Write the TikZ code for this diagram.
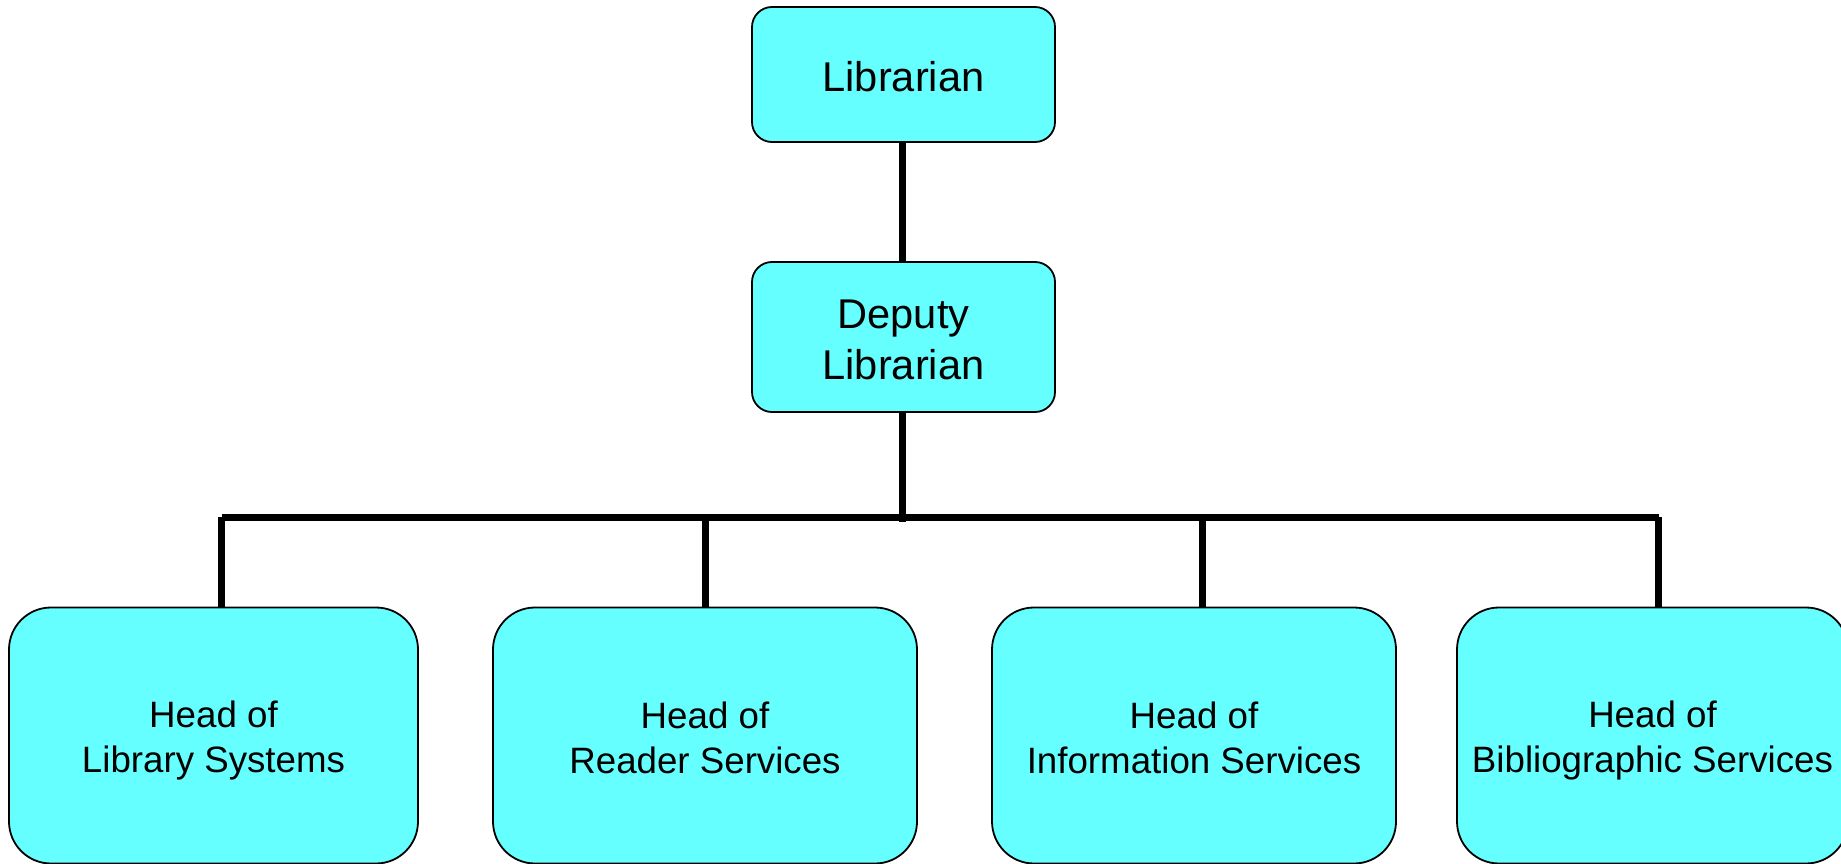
\documentclass[tikz,border=0pt]{standalone}
\usepackage{fontspec}
\setmainfont{Liberation Sans}
\definecolor{boxfill}{HTML}{66FFFF}
% invisible struts giving every text line the same height and depth
\newcommand\bossstrut{\rule[-5pt]{0pt}{44pt}}
\newcommand\headstrut{\rule[-5pt]{0pt}{41pt}}
\tikzset{
  post/.style={draw=black, line width=1.8pt, fill=boxfill, rounded corners=#1,
    inner sep=0pt, outer sep=0pt, align=center, text=black},
  topbox/.style={post=20pt, minimum width=303pt, font=\fontsize{41.6}{51}\selectfont},
  headbox/.style={post=42pt, minimum height=256pt, font=\fontsize{36.7}{45}\selectfont},
  link/.style={draw=black, line width=7pt, line cap=butt}
}
\begin{document}
\begin{tikzpicture}[x=1pt, y=-1pt]
  \useasboundingbox (0,0) rectangle (1841,864);
  \clip (0,0) rectangle (1841,864);

  % upper chain of command
  \node[topbox, minimum height=135pt] (lib) at (903.5,74.5) {\bossstrut Librarian};
  \node[topbox, minimum height=150pt] (dep) at (903.5,337) {\bossstrut Deputy\\\bossstrut Librarian};

  % heads of section
  \node[headbox, minimum width=409pt] (h1) at (213.5,735.5) {\headstrut Head of\\\headstrut Library Systems};
  \node[headbox, minimum width=424pt] (h2) at (705,735.5) {\headstrut Head of\\\headstrut Reader Services};
  \node[headbox, minimum width=404pt] (h3) at (1194,735.5) {\headstrut Head of\\\headstrut Information Services};
  \node[headbox, minimum width=391pt] (h4) at (1652.5,735.5) {\headstrut Head of\\\headstrut Bibliographic Services};

  % branch points on the distribution bar
  \coordinate (j)  at (902,522);
  \coordinate (t1) at (221.5,517);
  \coordinate (t2) at (705.5,517);
  \coordinate (t3) at (1202,517);
  \coordinate (t4) at (1658.5,517);

  \draw[link] (lib.south -| j) -- (dep.north -| j);
  \draw[link] (dep.south -| j) -- (j);
  \draw[link] (t1) -- (t4);
  \draw[link] (t1) -- (t1 |- h1.north);
  \draw[link] (t2) -- (t2 |- h2.north);
  \draw[link] (t3) -- (t3 |- h3.north);
  \draw[link] (t4) -- (t4 |- h4.north);
\end{tikzpicture}
\end{document}
